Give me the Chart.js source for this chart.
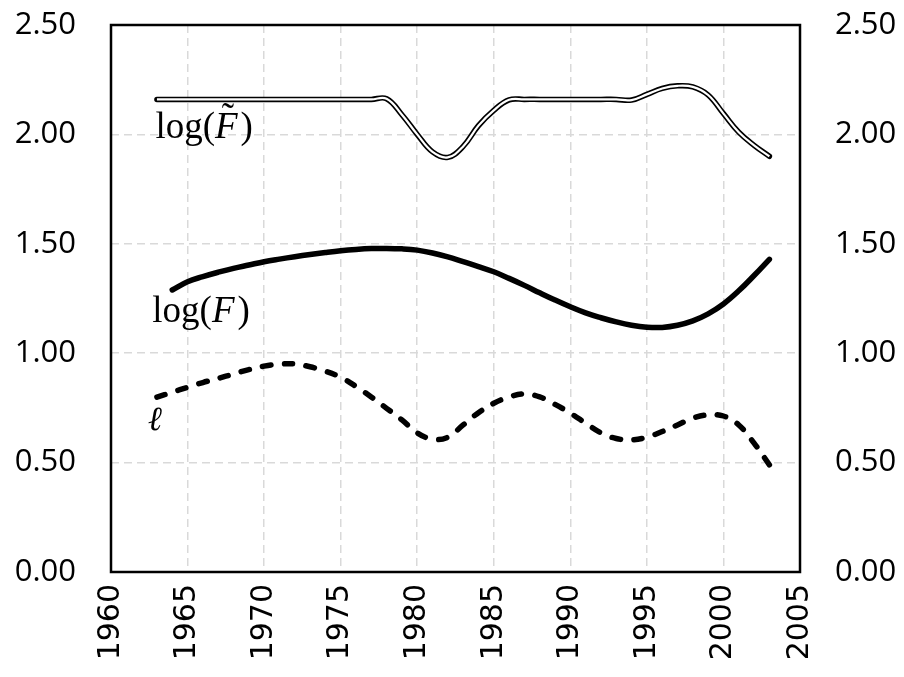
<!DOCTYPE html>
<html>
    <head>
        <title>log(F) chart</title>
        <style>
            html, body
            {
                margin: 0;
                padding: 0;
                background: #ffffff;
            }

            #chartWrapper
            {
                width: 904px;
                height: 677px;
            }
        </style>
        <script src="https://cdn.jsdelivr.net/npm/chart.js"></script>
        <script>
            // values, one per year
            const yearsFt = [1963, 1964, 1965, 1966, 1967, 1968, 1969, 1970, 1971, 1972, 1973, 1974, 1975, 1976, 1977, 1978, 1979, 1980, 1981, 1982, 1983, 1984, 1985, 1986, 1987, 1988, 1989, 1990, 1991, 1992, 1993, 1994, 1995, 1996, 1997, 1998, 1999, 2000, 2001, 2002, 2003];
            const logFt   = [2.16, 2.16, 2.16, 2.16, 2.16, 2.16, 2.16, 2.16, 2.16, 2.16, 2.16, 2.16, 2.16, 2.16, 2.16, 2.163, 2.09, 2.00, 1.92, 1.895, 1.945, 2.04, 2.11, 2.158, 2.16, 2.16, 2.16, 2.16, 2.16, 2.16, 2.16, 2.157, 2.183, 2.21, 2.222, 2.217, 2.18, 2.095, 2.01, 1.95, 1.90];

            const yearsF = [1964, 1965, 1966, 1967, 1968, 1969, 1970, 1971, 1972, 1973, 1974, 1975, 1976, 1977, 1978, 1979, 1980, 1981, 1982, 1983, 1984, 1985, 1986, 1987, 1988, 1989, 1990, 1991, 1992, 1993, 1994, 1995, 1996, 1997, 1998, 1999, 2000, 2001, 2002, 2003];
            const logF   = [1.289, 1.327, 1.350, 1.370, 1.388, 1.403, 1.418, 1.430, 1.441, 1.451, 1.460, 1.468, 1.474, 1.478, 1.479, 1.477, 1.471, 1.458, 1.440, 1.418, 1.396, 1.372, 1.342, 1.310, 1.276, 1.243, 1.212, 1.184, 1.162, 1.143, 1.128, 1.119, 1.118, 1.128, 1.148, 1.180, 1.225, 1.285, 1.355, 1.429];

            const yearsL = [1963, 1964, 1965, 1966, 1967, 1968, 1969, 1970, 1971, 1972, 1973, 1974, 1975, 1976, 1977, 1978, 1979, 1980, 1981, 1982, 1983, 1984, 1985, 1986, 1987, 1988, 1989, 1990, 1991, 1992, 1993, 1994, 1995, 1996, 1997, 1998, 1999, 2000, 2001, 2002, 2003];
            const ell    = [0.799, 0.822, 0.844, 0.866, 0.885, 0.905, 0.925, 0.941, 0.950, 0.951, 0.938, 0.918, 0.890, 0.848, 0.800, 0.748, 0.695, 0.636, 0.607, 0.616, 0.672, 0.728, 0.771, 0.800, 0.814, 0.800, 0.766, 0.726, 0.680, 0.636, 0.610, 0.604, 0.616, 0.642, 0.672, 0.703, 0.718, 0.713, 0.672, 0.589, 0.490];

            const yTicks = [0, 0.5, 1.0, 1.5, 2.0, 2.5];
            const xMin = 1960, xMax = 2005, xStep = 5;

            const curveLabels = [
                {text: "log(F\u0303)", x: 1962.9, y: 1.983},
                {text: "log(F)", x: 1962.7, y: 1.144},
                {text: "\u2113", x: 1962.4, y: 0.649}
            ];

            const toPoints = (xs, ys) => xs.map((x, i) => ({x: x, y: ys[i]}));

            // box round the plot + the curve labels
            const framePlugin = {
                id: "frame",
                beforeDatasetsDraw(chart)
                {
                    const a = chart.chartArea;
                    const ctx = chart.ctx;
                    ctx.save();
                    ctx.strokeStyle = "#000";
                    ctx.lineWidth = 2.5;
                    ctx.strokeRect(a.left, a.top, a.right - a.left, a.bottom - a.top);
                    ctx.restore();
                },
                afterDatasetsDraw(chart)
                {
                    const ctx = chart.ctx;
                    const xs = chart.scales.x, ys = chart.scales.y;
                    ctx.save();
                    ctx.fillStyle = "#000";
                    ctx.textBaseline = "alphabetic";
                    ctx.textAlign = "left";
                    curveLabels.forEach(l => {
                        const px = xs.getPixelForValue(l.x);
                        const py = ys.getPixelForValue(l.y);
                        if (l.text.startsWith("log"))
                        {
                            // "log(" upright, F italic, ")" upright
                            ctx.font = '37px "Liberation Serif"';
                            let cx = px;
                            ctx.fillText("log(", cx, py);
                            cx += ctx.measureText("log(").width;
                            ctx.font = 'italic 37px "Liberation Serif"';
                            ctx.fillText("F", cx, py);
                            const fw = ctx.measureText("F").width;
                            if (l.text.includes("\u0303"))
                            {
                                ctx.font = '37px "Liberation Serif"';
                                ctx.fillText("\u02DC", cx + fw * 0.3, py - 9);
                            }
                            cx += fw + 3;
                            ctx.font = '37px "Liberation Serif"';
                            ctx.fillText(")", cx, py);
                        }
                        else
                        {
                            ctx.font = 'italic 34px "DejaVu Serif"';
                            ctx.fillText(l.text, px, py);
                        }
                    });
                    ctx.restore();
                }
            };

            const noPad = s => {
                s.paddingTop = 0;
                s.paddingBottom = 0;
                s.paddingLeft = 0;
                s.paddingRight = 0;
            };

            function init()
            {
                const chartHTML = document.getElementById("lineChart");
                const gridStyle = {
                    color: "#d9d9d9",
                    lineWidth: 1.5,
                    drawTicks: false
                };
                const yTickStyle = {
                    font: {family: "Open Sans", size: 31},
                    color: "#000",
                    padding: 35,
                    stepSize: 0.5,
                    callback: v => Number(v).toFixed(2)
                };

                new Chart(chartHTML, {
                    type: "line",
                    data: {
                        datasets: [
                            {
                                label: "log(F~) inner",
                                data: toPoints(yearsFt, logFt),
                                borderColor: "#fff",
                                borderWidth: 2.2,
                                pointRadius: 0,
                                tension: 0.4
                            },
                            {
                                label: "log(F~) outer",
                                data: toPoints(yearsFt, logFt),
                                borderColor: "#000",
                                borderWidth: 5.5,
                                borderCapStyle: "round",
                                pointRadius: 0,
                                tension: 0.4
                            },
                            {
                                label: "log(F)",
                                data: toPoints(yearsF, logF),
                                borderColor: "#000",
                                borderWidth: 5.5,
                                borderCapStyle: "round",
                                pointRadius: 0,
                                tension: 0.4
                            },
                            {
                                label: "ell",
                                data: toPoints(yearsL, ell),
                                borderColor: "#000",
                                borderWidth: 5.5,
                                borderCapStyle: "round",
                                borderDash: [8.5, 13.5],
                                pointRadius: 0,
                                tension: 0.4
                            }
                        ]
                    },
                    options: {
                        responsive: false,
                        animation: false,
                        layout: {padding: {top: 25, right: 0, left: 0, bottom: 0}},
                        plugins: {
                            legend: {display: false},
                            tooltip: {enabled: false}
                        },
                        scales: {
                            x: {
                                type: "linear",
                                min: xMin,
                                max: xMax,
                                border: {display: false, dash: [8, 5]},
                                grid: gridStyle,
                                ticks: {
                                    stepSize: xStep,
                                    minRotation: 90,
                                    maxRotation: 90,
                                    padding: 12,
                                    color: "#000",
                                    font: {family: "DejaVu Sans", size: 30},
                                    callback: v => String(v)
                                },
                                afterFit: s => { s.height = 105; noPad(s); }
                            },
                            y: {
                                position: "left",
                                min: yTicks[0],
                                max: yTicks[yTicks.length - 1],
                                border: {display: false, dash: [8, 5]},
                                grid: gridStyle,
                                ticks: yTickStyle,
                                afterFit: s => { s.width = 111; noPad(s); }
                            },
                            y2: {
                                position: "right",
                                min: yTicks[0],
                                max: yTicks[yTicks.length - 1],
                                border: {display: false},
                                grid: {display: false, drawTicks: false},
                                ticks: yTickStyle,
                                afterFit: s => { s.width = 104; noPad(s); }
                            }
                        }
                    },
                    plugins: [framePlugin]
                });
            }
        </script>
    </head>
    <body onload="init();">
        <div id="chartWrapper">
            <canvas id="lineChart" width="904" height="677"></canvas>
        </div>
    </body>
</html>
